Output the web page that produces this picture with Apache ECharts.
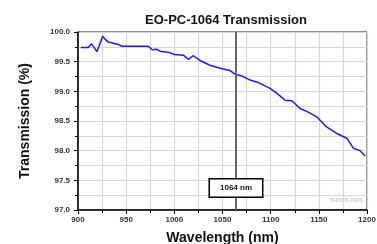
<!DOCTYPE html>
<html>
<head>
<meta charset="utf-8">
<script src="https://cdn.jsdelivr.net/npm/echarts@6/dist/echarts.min.js"></script>
<style>
  html, body { margin: 0; padding: 0; background: #fff; }
  #chart { width: 377px; height: 244px; }
</style>
</head>
<body>
<div id="chart"></div>
<script>
// 数据：波长 (nm) 与透射率 (%)
var wavelength = [903, 910.7, 914, 916.6, 919.7, 921.8, 925.6, 928, 931.5, 936.7, 941.8, 945.3,
  973, 977, 981.6, 986, 993.7, 1000, 1009.4, 1014.6, 1019.8, 1026.6, 1037, 1047.4, 1057.8,
  1063, 1070, 1078.6, 1087, 1093, 1099.4, 1106.3, 1115, 1122, 1130.5, 1139, 1147.8, 1158,
  1168.6, 1179, 1186, 1192.8, 1198];
var transmission = [99.74, 99.74, 99.80, 99.74, 99.67, 99.76, 99.93, 99.88, 99.83, 99.81, 99.79, 99.76,
  99.76, 99.70, 99.71, 99.67, 99.66, 99.62, 99.61, 99.54, 99.60, 99.52, 99.44, 99.39, 99.35,
  99.29, 99.26, 99.19, 99.15, 99.10, 99.05, 98.97, 98.85, 98.84, 98.71, 98.65, 98.57, 98.40,
  98.29, 98.21, 98.04, 98.00, 97.91];
var markWl = 1064;
var markLabel = '1064 nm';

var font = 'Liberation Sans, Arial, sans-serif';
var chart = echarts.init(document.getElementById('chart'));
var option = {
  animation: false,
  title: {
    text: 'EO-PC-1064 Transmission',
    left: 221, top: 9, textAlign: 'center',
    textStyle: { fontFamily: font, fontSize: 13, fontWeight: 'bold', color: '#111' }
  },
  grid: {
    left: 78, right: 10, top: 32, bottom: 34,
    outerBoundsMode: 'none', containLabel: false,
    show: true, borderColor: '#222', borderWidth: 1
  },
  xAxis: {
    type: 'value', min: 900, max: 1200, interval: 50,
    name: 'Wavelength (nm)', nameLocation: 'middle', nameGap: 21,
    nameTextStyle: { fontFamily: font, fontSize: 14, fontWeight: 'bold', color: '#111' },
    axisLine: { onZero: false, lineStyle: { color: '#000', width: 1.5 } },
    axisTick: { show: true, length: 4, lineStyle: { color: '#000' } },
    minorTick: { show: true, splitNumber: 2, length: 3, lineStyle: { color: '#000' } },
    axisLabel: {
      fontFamily: font, fontSize: 8, fontWeight: 'bold', color: '#333', margin: 6,
      formatter: function (v) { return String(v); }
    },
    splitLine: { lineStyle: { color: '#d6d6d6', width: 1.2 } },
    minorSplitLine: { show: true, lineStyle: { color: '#d6d6d6', width: 1.2 } }
  },
  yAxis: {
    type: 'value', min: 97, max: 100, interval: 0.5,
    name: 'Transmission (%)', nameLocation: 'middle', nameGap: 46,
    nameTextStyle: { fontFamily: font, fontSize: 14, fontWeight: 'bold', color: '#111' },
    axisLine: { show: true, lineStyle: { color: '#000', width: 1.5 } },
    axisTick: { show: true, length: 4, lineStyle: { color: '#000' } },
    minorTick: { show: true, splitNumber: 2, length: 3, lineStyle: { color: '#000' } },
    axisLabel: {
      fontFamily: font, fontSize: 8, fontWeight: 'bold', color: '#333', margin: 8,
      formatter: function (v) { return v.toFixed(1); }
    },
    splitLine: { lineStyle: { color: '#d6d6d6', width: 1.2 } },
    minorSplitLine: { show: true, lineStyle: { color: '#d6d6d6', width: 1.2 } }
  },
  series: [{
    type: 'line',
    data: wavelength.map(function (w, i) { return [w, transmission[i]]; }),
    symbol: 'none',
    lineStyle: { color: '#1a1aff', width: 1.5 },
    markLine: {
      silent: true, symbol: 'none', label: { show: false },
      lineStyle: { color: '#666', width: 2, type: 'solid' },
      data: [{ xAxis: markWl }]
    },
    markPoint: {
      silent: true,
      symbolSize: 0,
      data: [{ coord: [markWl, 97.37] }],
      label: {
        show: true, position: 'inside',
        formatter: markLabel,
        fontFamily: font, fontSize: 8, fontWeight: 'bold', color: '#111',
        backgroundColor: '#fff', borderColor: '#000', borderWidth: 1.5,
        padding: [5, 10, 4, 10]
      }
    }
  }],
  graphic: [{
    type: 'text', right: 14, top: 197,
    style: { text: 'THORLABS', fontFamily: font, fontSize: 6, fontWeight: 'bold', fill: '#c8c8c8' }
  }]
};
chart.setOption(option);
</script>
</body>
</html>
